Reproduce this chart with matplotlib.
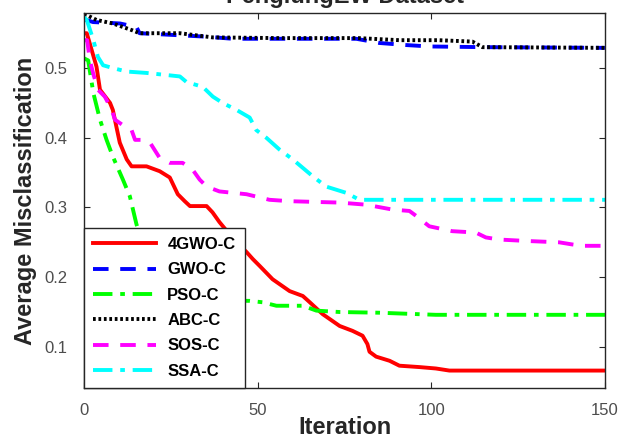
import numpy as np
import matplotlib
matplotlib.use('Agg')
import matplotlib.pyplot as plt

plt.rcParams['font.family'] = ['Liberation Sans', 'DejaVu Sans']

# data (iteration, average misclassification)
gwo4_it = [0, 0.8, 2.2, 3.6, 4.6, 7.5, 8.3, 9.4, 10.3, 12.3, 13.7, 18, 21.8, 24.7, 27, 29,
           30.5, 35.3, 37, 39, 43, 46.8, 48.6, 50.6, 54.3, 59.2, 63, 65, 68.7, 73.6, 77.3,
           80.2, 81.6, 82.2, 84.1, 88, 90.8, 96.6, 101.3, 105.2, 150]
gwo4_val = [0.550, 0.550, 0.526, 0.502, 0.469, 0.450, 0.440, 0.414, 0.393, 0.369, 0.359, 0.359,
            0.352, 0.343, 0.319, 0.309, 0.302, 0.302, 0.293, 0.279, 0.255, 0.236, 0.226, 0.216,
            0.197, 0.180, 0.173, 0.164, 0.147, 0.130, 0.123, 0.116, 0.104, 0.093, 0.086, 0.080,
            0.073, 0.071, 0.069, 0.066, 0.066]

gwo_it = [0, 2.6, 10.3, 15.1, 16, 27.6, 35.3, 42.8, 62, 78.4, 85, 92.8, 99.4, 115, 150]
gwo_val = [0.570, 0.566, 0.564, 0.559, 0.550, 0.547, 0.545, 0.542, 0.542, 0.542, 0.536, 0.533,
           0.531, 0.530, 0.529]

pso_it = [0, 1.2, 2.7, 4.6, 6.5, 8.3, 11.2, 13.2, 14.1, 15.1, 18, 21, 25, 35, 47.7, 51.4,
          55.4, 63, 66.9, 73.6, 85, 101.3, 150]
pso_val = [0.514, 0.511, 0.464, 0.426, 0.397, 0.373, 0.340, 0.316, 0.297, 0.276, 0.230, 0.195,
           0.172, 0.167, 0.166, 0.164, 0.159, 0.159, 0.152, 0.150, 0.149, 0.146, 0.146]

abc_it = [0, 0.8, 3.6, 8.3, 14, 16, 27.6, 37, 56, 79, 90.8, 102, 111.8, 114.7, 150]
abc_val = [0.577, 0.576, 0.569, 0.564, 0.554, 0.550, 0.550, 0.544, 0.543, 0.543, 0.540, 0.540,
           0.538, 0.530, 0.529]

sos_it = [0, 0.9, 1.7, 2.6, 4, 6, 8, 8.9, 11.8, 13.7, 14.7, 17, 19, 21.8, 24.7, 28.4, 31.3,
          33.3, 35.3, 39, 46.8, 53.4, 59.2, 73.6, 81.2, 88.8, 93.7, 95.6, 99.4, 106, 112.8,
          115.7, 119.5, 127.2, 136.8, 140.5, 143.4, 150]
sos_val = [0.540, 0.540, 0.511, 0.493, 0.469, 0.459, 0.440, 0.426, 0.416, 0.411, 0.397, 0.397,
           0.393, 0.371, 0.364, 0.364, 0.354, 0.340, 0.330, 0.323, 0.319, 0.311, 0.309, 0.307,
           0.304, 0.297, 0.295, 0.288, 0.273, 0.266, 0.264, 0.257, 0.254, 0.252, 0.250, 0.247,
           0.245, 0.245]

ssa_it = [0, 0.8, 2.7, 4, 5.5, 8.3, 12.3, 18, 23.8, 27.6, 29.5, 34.2, 37.1, 39.9, 43.9, 47.7,
          49.6, 52.5, 56.3, 60.1, 65.8, 69.7, 75.5, 79.3, 150]
ssa_val = [0.573, 0.569, 0.540, 0.516, 0.504, 0.500, 0.495, 0.493, 0.490, 0.488, 0.480, 0.473,
           0.459, 0.450, 0.440, 0.429, 0.411, 0.400, 0.383, 0.369, 0.345, 0.330, 0.321, 0.311,
           0.311]

labels = ['4GWO-C', 'GWO-C', 'PSO-C', 'ABC-C', 'SOS-C', 'SSA-C']

fig = plt.figure(figsize=(6.33, 4.37), dpi=100)
ax = fig.add_axes([84 / 633, 1 - 388 / 437, (605 - 84) / 633, (388 - 13) / 437])

lw = 2.8
ax.plot(gwo4_it, gwo4_val, color='#ff0000', lw=lw, label=labels[0])
ax.plot(gwo_it, gwo_val, color='#0000ff', lw=lw, dashes=(4, 3), label=labels[1])
ax.plot(pso_it, pso_val, color='#00ff00', lw=lw, dashes=(5, 2, 1.2, 2), label=labels[2])
ax.plot(abc_it, abc_val, color='black', lw=lw, dashes=(0.7, 0.7), label=labels[3])
ax.plot(sos_it, sos_val, color='#ff00ff', lw=lw, dashes=(4, 3), label=labels[4])
ax.plot(ssa_it, ssa_val, color='#00ffff', lw=lw, dashes=(5, 2, 1.2, 2), label=labels[5])

ax.set_xlim(0, 150)
ax.set_ylim(0.041, 0.579)
ax.set_xticks([0, 50, 100, 150])
ax.set_yticks([0.1, 0.2, 0.3, 0.4, 0.5])
ax.set_yticklabels(['0.1', '0.2', '0.3', '0.4', '0.5'])

ax.tick_params(direction='in', length=4, width=0.8, top=True, right=True,
               labelsize=12, labelcolor='#4d4d4d', color='#262626')
ax.tick_params(axis='x', pad=11)
ax.tick_params(axis='y', pad=12)
for s in ax.spines.values():
    s.set_color('#262626')
    s.set_linewidth(1.0)

ax.set_xlabel('Iteration', fontsize=17, fontweight='bold', color='#262626', labelpad=-2)
ax.set_ylabel('Average Misclassification', fontsize=17, fontweight='bold', color='#262626',
              labelpad=5)
# the title sits partly above the figure edge, as in the reference
ax.set_title('PenglungEW Dataset', fontsize=17, fontweight='bold', color='#262626', pad=7)

leg = ax.legend(loc='lower left', prop={'weight': 'bold', 'size': 12},
                handlelength=3.75, handletextpad=0.7, labelspacing=0.62,
                borderaxespad=0, fancybox=False, framealpha=1, borderpad=0.55)
leg.get_frame().set_edgecolor('#262626')
leg.get_frame().set_linewidth(1.0)

fig.savefig('out.png', dpi=100)
